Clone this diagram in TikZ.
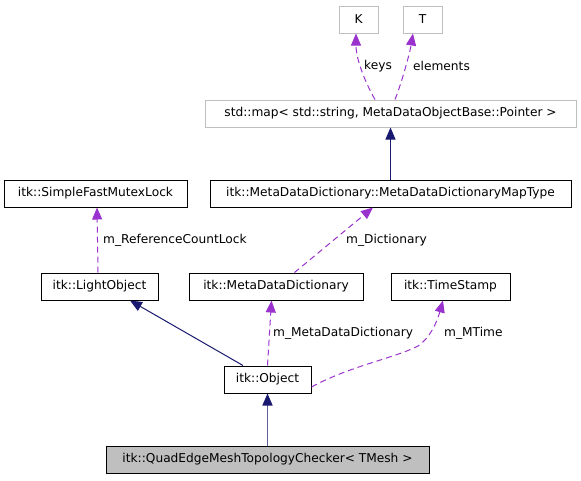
\documentclass[tikz,border=0pt]{standalone}
\usepackage{fontspec}
\setmainfont{DejaVu Sans}
\usetikzlibrary{arrows.meta}
\definecolor{navy}{HTML}{191970}
\definecolor{purp}{HTML}{9A32CD}
\definecolor{lgray}{HTML}{BFBFBF}
\tikzset{
  box/.style={draw=black, line width=1pt, inner sep=0pt, minimum height=27pt, font=\fontsize{12.2}{14}\selectfont},
  ext/.style={box, draw=lgray},
  lbl/.style={inner sep=0pt, font=\fontsize{12.2}{14}\selectfont, anchor=west},
  inh/.style={draw=navy, line width=1pt, -{Triangle[length=12pt,width=10pt,fill=navy,color=navy]}},
  dep/.style={draw=purp, line width=1pt, dash pattern=on 6pt off 4pt, -{Triangle[length=12pt,width=10pt,fill=purp]}},
}
\begin{document}
\begin{tikzpicture}[x=1pt,y=-1pt]
\useasboundingbox (0,0) rectangle (581,480);
\node[ext, minimum width=39pt] (K) at (358.5,19.5) {K};
\node[ext, minimum width=39pt] (T) at (422.5,19.5) {T};
\node[ext, minimum width=371pt] (map) at (390.5,113.5) {std::map< std::string, MetaDataObjectBase::Pointer >};
\node[box, minimum width=361pt] (mt) at (390.5,193.5) {itk::MetaDataDictionary::MetaDataDictionaryMapType};
\node[box, minimum width=183pt] (sf) at (95.5,193.5) {itk::SimpleFastMutexLock};
\node[box, minimum width=117pt] (lo) at (99.5,286.5) {itk::LightObject};
\node[box, minimum width=174pt] (mdd) at (276,286.5) {itk::MetaDataDictionary};
\node[box, minimum width=119pt] (ts) at (450.5,286.5) {itk::TimeStamp};
\node[box, minimum width=87pt] (obj) at (267.5,379.5) {itk::Object};
\node[box, fill=lgray, minimum width=323pt] (qe) at (267.5,459.5) {itk::QuadEdgeMeshTopologyChecker< TMesh >};

\draw[dep] ([xshift=-15.5pt]map.north) .. controls (366,84) and (356,60) .. ([xshift=-2.5pt]K.south);
\draw[dep] ([xshift=4.5pt]map.north) .. controls (402,82) and (410,52) .. ([xshift=-9.5pt]T.south);
\node[lbl] (lkeys) at (364,66) {keys};
\node[lbl] (lel) at (413,66) {elements};

\draw[inh] (mt.north) -- (map.south);
\draw[dep] ([xshift=18.5pt]mdd.north) -- ([xshift=-17.5pt]mt.south);
\node[lbl] (ldict) at (346,240) {m\_Dictionary};

\draw[dep] ([xshift=-1.5pt]lo.north) -- ([xshift=1.5pt]sf.south);
\node[lbl] (lref) at (103,240) {m\_ReferenceCountLock};

\draw[inh] ([xshift=-24.5pt]obj.north) -- ([xshift=30.5pt]lo.south);
\draw[dep] (obj.north) -- ([xshift=-4.5pt]mdd.south);
\node[lbl] (lmdd) at (273,333) {m\_MetaDataDictionary};
\draw[dep] ([yshift=-7.5pt]obj.east) .. controls (350,366) and (395,358) .. (418,346) .. controls (430,338) and (437,322) .. ([xshift=-7.5pt]ts.south);
\node[lbl] (lmt) at (444,333) {m\_MTime};

\draw[inh, draw=navy!70, line width=1.5pt] (qe.north) -- (obj.south);
\end{tikzpicture}
\end{document}
